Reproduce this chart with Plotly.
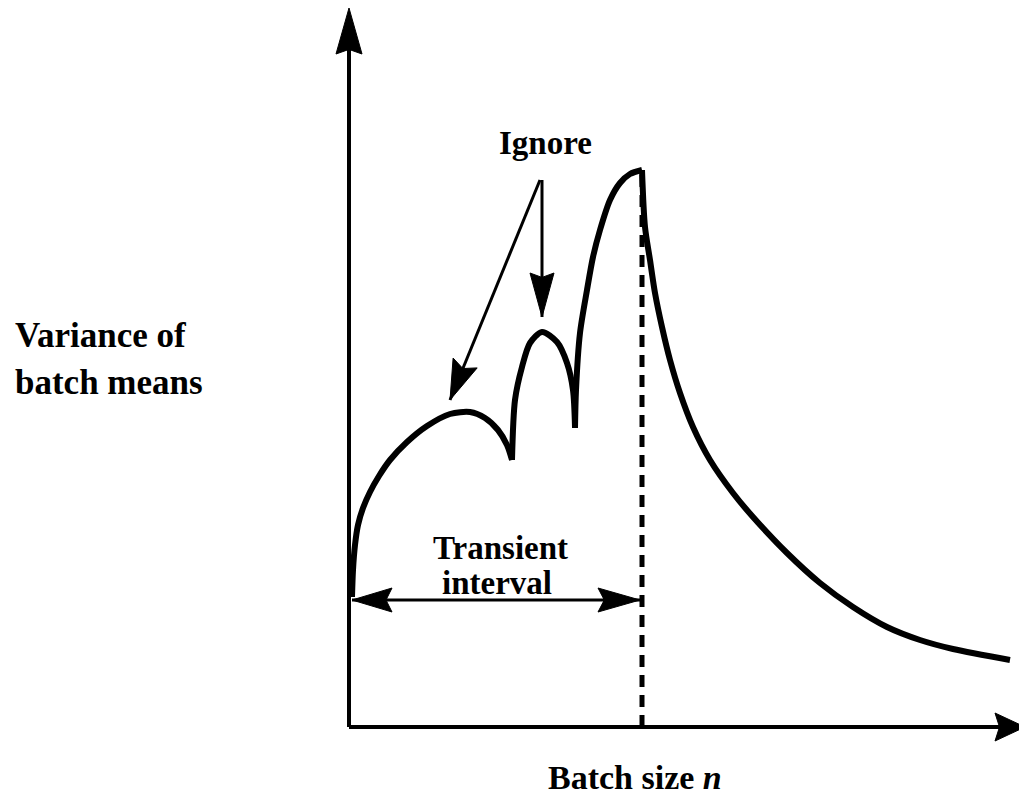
import math
import plotly.graph_objects as go

# Schematic data (x = batch size units, y = variance units)
arch1_x = [3, 4, 6, 9, 14, 21, 30, 41, 58, 78, 101, 121, 136, 149, 158, 163]
arch1_y = [130, 157, 182, 202, 219, 235, 251, 267, 285, 301, 313, 315, 309, 297, 282, 267]
arch2_x = [163, 166, 173, 181, 193, 208, 218, 224, 226]
arch2_y = [267, 327, 360, 384, 395, 385, 364, 337, 300]
arch3_x = [226, 227, 231, 238, 244, 251, 261, 271, 281, 293]
arch3_y = [299, 337, 394, 437, 470, 497, 527, 544, 553, 557]
decay_x = [293, 296, 301, 306, 313, 321, 331, 344, 361, 384, 404, 438, 471, 504, 538, 571, 604, 661]
decay_y = [557, 500, 467, 434, 400, 367, 334, 300, 267, 234, 210, 174, 144, 120, 100, 87, 78, 67]

transient_end = 291
interval_level = 127
peak_x = 293
peak_y = 557
ignore_origin = (191, 547)
ignore_tip_left = (101, 327)
ignore_tip_down = (193, 410)
y_axis_top = 719
x_axis_right = 676

FONT = "Liberation Serif, Times New Roman, serif"

fig = go.Figure()

def line(xs, ys, width, dash=None, shape="linear"):
    fig.add_trace(go.Scatter(x=xs, y=ys, mode="lines",
                             line=dict(color="black", width=width, dash=dash, shape=shape,
                                       smoothing=0.8),
                             hoverinfo="skip", showlegend=False))

def head(tip, tail, length, half, notch=0.0):
    tx, ty = tip
    sx, sy = tail
    d = math.hypot(tx - sx, ty - sy)
    ux, uy = (tx - sx) / d, (ty - sy) / d
    px, py = -uy, ux
    bx, by = tx - ux * length, ty - uy * length
    nx, ny = tx - ux * length * (1 - notch), ty - uy * length * (1 - notch)
    xs = [tx, bx + px * half, nx, bx - px * half, tx]
    ys = [ty, by + py * half, ny, by - py * half, ty]
    fig.add_trace(go.Scatter(x=xs, y=ys, mode="lines", fill="toself",
                             fillcolor="black", line=dict(color="black", width=1),
                             hoverinfo="skip", showlegend=False))

# axes
line([0, 0], [0, y_axis_top - 20], 4)
head((0, y_axis_top), (0, 0), 46, 13, 0.1)
line([0, x_axis_right - 20], [0, 0], 4)
head((x_axis_right, 0), (0, 0), 30, 14, 0.15)

# dashed vertical at end of transient
line([peak_x, peak_x], [0, peak_y], 5, dash="12px,8px")

# curve
for xs, ys in [(arch1_x, arch1_y), (arch2_x, arch2_y), (arch3_x, arch3_y), (decay_x, decay_y)]:
    line(xs, ys, 6, shape="spline")

# transient interval double arrow
line([3, transient_end], [interval_level, interval_level], 3)
head((3, interval_level), (transient_end, interval_level), 40, 12, 0.15)
head((transient_end, interval_level), (3, interval_level), 42, 12, 0.15)

# ignore arrows
line([ignore_origin[0], ignore_tip_left[0]], [ignore_origin[1], ignore_tip_left[1]], 3)
head(ignore_tip_left, ignore_origin, 40, 13, 0.15)
line([ignore_tip_down[0], ignore_tip_down[0]], [ignore_origin[1], ignore_tip_down[1]], 3)
head(ignore_tip_down, (ignore_tip_down[0], ignore_origin[1]), 44, 12, 0.1)

def text(x, y, s, size=33, xanchor="center"):
    fig.add_annotation(x=x, y=y, xref="x", yref="y", text=s, showarrow=False,
                       xanchor=xanchor, yanchor="middle",
                       font=dict(family=FONT, size=size, color="black"))

text(196, 584, "<b>Ignore</b>")
text(151, 179, "<b>Transient</b>")
text(148, 144, "<b>interval</b>")
text(-336, 392, "<b>Variance of</b>", size=35, xanchor="left")
text(-336, 345, "<b>batch means</b>", size=35, xanchor="left")
text(286, -50, "<b>Batch size <i>n</i></b>", size=34)

# page body adds an 8px offset; ranges compensate so marks land where intended
fig.update_layout(width=1027, height=797, margin=dict(l=0, r=0, t=0, b=0),
                  paper_bgcolor="white", plot_bgcolor="white", showlegend=False,
                  xaxis=dict(range=[-341, 686], visible=False, fixedrange=True),
                  yaxis=dict(range=[-78, 719], visible=False, fixedrange=True))

fig.write_html("out.html")
